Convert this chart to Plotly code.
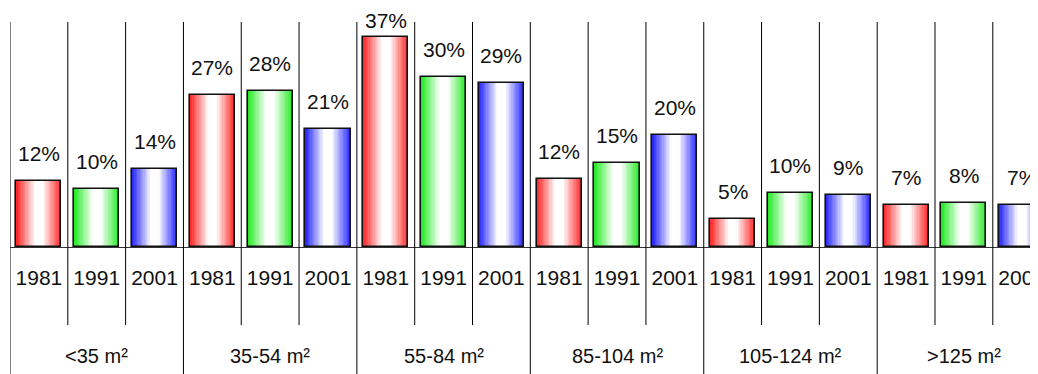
import plotly.graph_objects as go

groups = ["<35 m²", "35-54 m²", "55-84 m²", "85-104 m²", "105-124 m²", ">125 m²"]
years = ["1981", "1991", "2001"]
share_1981 = [11.7, 27.0, 37.3, 12.1, 5.0, 7.4]
share_1991 = [10.3, 27.7, 30.2, 14.9, 9.6, 7.8]
share_2001 = [13.9, 21.0, 29.1, 19.9, 9.2, 7.4]

series = [share_1981, share_1991, share_2001]
edge_colors = [(255, 40, 40), (40, 235, 40), (40, 40, 255)]

BAR_W = 0.78
N_LAYERS = 18
PX_PER_UNIT = 225 / 40  # plot height / y range


def mix(c, t):
    # t=0 -> full colour, t=1 -> white
    return "rgb(%d,%d,%d)" % tuple(round(v + (255 - v) * t) for v in c)


fig = go.Figure()

for yi, (vals, col) in enumerate(zip(series, edge_colors)):
    xs = [g * 3 + yi for g in range(len(groups))]
    # fake a horizontal gradient: stack narrower and lighter bars on top
    for k in range(N_LAYERS):
        frac = 1 - k / N_LAYERS
        t = min(1.0, k / (N_LAYERS * 0.8))
        fig.add_trace(go.Bar(
            x=xs, y=vals, width=[BAR_W * frac] * len(xs),
            marker=dict(color=mix(col, t), line=dict(width=0)),
            showlegend=False, hoverinfo="skip" if k else None,
        ))
    # outline
    fig.add_trace(go.Bar(
        x=xs, y=vals, width=[BAR_W] * len(xs),
        marker=dict(color="rgba(0,0,0,0)", line=dict(color="#111", width=1.6)),
        showlegend=False, hoverinfo="skip",
    ))
    for x, v in zip(xs, vals):
        # labels near the top get squeezed down so they stay inside the page
        room = 225 - v * PX_PER_UNIT - 12
        fig.add_annotation(x=x, y=v, text="%d%%" % round(v), showarrow=False,
                           yanchor="bottom", yshift=min(14, room),
                           font=dict(size=21, color="#111"))

n = len(groups) * 3
for i in range(n + 1):
    is_group = i % 3 == 0
    fig.add_shape(type="line", xref="x", yref="paper",
                  x0=i - 0.5, x1=i - 0.5, y0=1, y1=-0.65 if is_group else -0.347,
                  line=dict(color="black", width=1))

for g, name in enumerate(groups):
    fig.add_annotation(x=g * 3 + 1, y=-0.484, xref="x", yref="paper",
                       text=name, showarrow=False, yanchor="middle",
                       font=dict(size=20, color="#111"))

# the page body adds 8px, so margins are 8px smaller than the picture's offsets
fig.update_layout(
    width=1038, height=374,
    margin=dict(l=2, r=0, t=14, b=135, autoexpand=False),
    barmode="overlay", bargap=0,
    plot_bgcolor="white", paper_bgcolor="white",
    font=dict(family="Liberation Sans, Arial, sans-serif", color="#111"),
)
fig.update_xaxes(
    range=[-0.5, 17.42], tickvals=list(range(n)), ticktext=years * len(groups),
    tickfont=dict(size=21), ticks="", showgrid=False, zeroline=False,
    showline=True, linecolor="#333", linewidth=1, ticklabelstandoff=12,
    automargin=False, ticklabeloverflow="allow",
)
fig.update_yaxes(range=[0, 40], visible=False, showgrid=False, automargin=False)

fig.write_html("out.html")
